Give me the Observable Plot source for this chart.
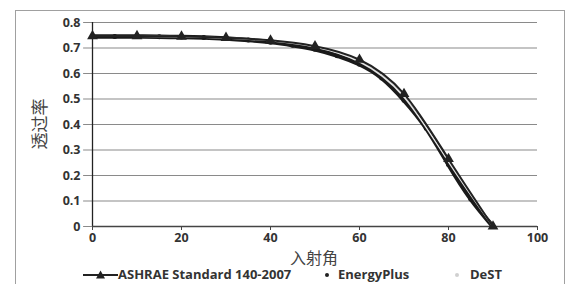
<!DOCTYPE html>
<html>
<head>
<meta charset="utf-8">
<script src="https://cdn.jsdelivr.net/npm/d3@7"></script>
<script src="https://cdn.jsdelivr.net/npm/@observablehq/plot@0.6"></script>
<style>
  html, body { margin: 0; padding: 0; background: #fff; }
  #wrap { position: relative; width: 573px; height: 284px; overflow: hidden; }
  #frame { position: absolute; left: 15px; top: 10px; width: 550px; height: 276px; border: 1px solid #a0a0a0; box-sizing: border-box; }
  .lbl { position: absolute; font-family: "Noto Sans CJK SC", sans-serif; color: #444; white-space: nowrap; }
  #legend { position: absolute; left: 0; top: 267px; width: 573px; height: 15px; font-family: "Open Sans", sans-serif; font-weight: bold; font-size: 13px; color: #333; }
  #legend span { position: absolute; top: 0; line-height: 15px; white-space: nowrap; }
</style>
</head>
<body>
<div id="wrap">
  <div id="frame"></div>
</div>
<script>
const angles = [0, 10, 20, 30, 40, 50, 60, 70, 80, 90];
const ashrae = [0.747, 0.747, 0.745, 0.740, 0.730, 0.707, 0.654, 0.520, 0.265, 0];
const epAngles = [0, 5, 10, 15, 20, 25, 30, 35, 40, 45, 50, 55, 60, 65, 70, 75, 80, 85, 90];
const energyPlus = [0.745, 0.745, 0.745, 0.744, 0.743, 0.741, 0.737, 0.731, 0.723, 0.711, 0.695, 0.670, 0.636, 0.582, 0.495, 0.385, 0.243, 0.108, 0];
const destAngles = [0, 10, 20, 30, 40, 50, 60, 70, 80, 90];
const dest = [0.746, 0.746, 0.744, 0.739, 0.728, 0.704, 0.646, 0.508, 0.254, 0];
const xTicks = [0, 20, 40, 60, 80, 100];
const yTicks = [0, 0.1, 0.2, 0.3, 0.4, 0.5, 0.6, 0.7, 0.8];
const seriesNames = ["ASHRAE Standard 140-2007", "EnergyPlus", "DeST"];
const xTitle = "入射角";
const yTitle = "透过率";

const A = angles.map((a, i) => ({x: a, y: ashrae[i]}));
const E = epAngles.map((a, i) => ({x: a, y: energyPlus[i]}));
const D = destAngles.map((a, i) => ({x: a, y: dest[i]}));

const tickFont = {fontFamily: "Open Sans, sans-serif", fontSize: "12.5px", fontWeight: "bold"};

const chart = Plot.plot({
  width: 573,
  height: 284,
  marginLeft: 92,
  marginRight: 36,
  marginTop: 22,
  marginBottom: 58,
  style: {background: "transparent", color: "#333", ...tickFont},
  x: {type: "linear", domain: [0, 100], axis: null},
  y: {type: "linear", domain: [0, 0.8], axis: null},
  marks: [
    Plot.ruleY(yTicks, {y: d => d, x1: -2.0, x2: 100, stroke: "#8a8a8a", strokeWidth: 1.2}),
    Plot.ruleX([0], {y1: 0, y2: 0.8, stroke: "#222", strokeWidth: 1.3}),
    Plot.ruleY([0], {x1: 0, x2: 100, stroke: "#444", strokeWidth: 1.3}),
    Plot.axisX({ticks: xTicks, label: null, tickSize: 4, tickPadding: 3, tickFormat: d => String(d), stroke: "#444", fill: "#333"}),
    Plot.axisY({ticks: yTicks, label: null, tickSize: 0, tickPadding: 12, tickFormat: d => d === 0 ? "0" : d3.format(".1f")(d), fill: "#333"}),
    Plot.line(E, {x: "x", y: "y", curve: "natural", stroke: "#1a1a1a", strokeWidth: 4.5}),
    Plot.dot(E, {x: "x", y: "y", r: 2.5, fill: "#1a1a1a"}),
    Plot.line(D, {x: "x", y: "y", curve: "natural", stroke: "#e4e4e4", strokeWidth: 1.5}),
    Plot.line(A, {x: "x", y: "y", curve: "natural", stroke: "#222", strokeWidth: 2}),
    Plot.dot(A, {x: "x", y: "y", symbol: "triangle", r: 4, fill: "#222"})
  ]
});
chart.style.position = "absolute";
chart.style.left = "0px";
chart.style.top = "0px";
const wrap = document.getElementById("wrap");
wrap.appendChild(chart);

const xl = document.createElement("div");
xl.className = "lbl";
xl.textContent = xTitle;
xl.style.cssText += "left:290px;top:245px;font-size:16px;";
wrap.appendChild(xl);

const yl = document.createElement("div");
yl.className = "lbl";
yl.textContent = yTitle;
yl.style.cssText += "left:38px;top:124px;font-size:17px;transform:translate(-50%,-50%) rotate(-90deg);";
wrap.appendChild(yl);

const legend = document.createElement("div");
legend.id = "legend";
legend.innerHTML = `
  <svg style="position:absolute;left:83px;top:2px" width="35" height="12">
    <line x1="0" y1="6" x2="35" y2="6" stroke="#222" stroke-width="2"/>
    <path d="M17.5,1.5 L22,9.5 L13,9.5 Z" fill="#222"/>
  </svg>
  <span style="left:118px">${seriesNames[0]}</span>
  <svg style="position:absolute;left:323px;top:4px" width="8" height="8"><circle cx="4" cy="4" r="2" fill="#222"/></svg>
  <span style="left:338px">${seriesNames[1]}</span>
  <svg style="position:absolute;left:453px;top:4px" width="8" height="8"><circle cx="4" cy="4" r="2" fill="#d0d0d0"/></svg>
  <span style="left:470px">${seriesNames[2]}</span>
`;
wrap.appendChild(legend);
</script>
</body>
</html>
